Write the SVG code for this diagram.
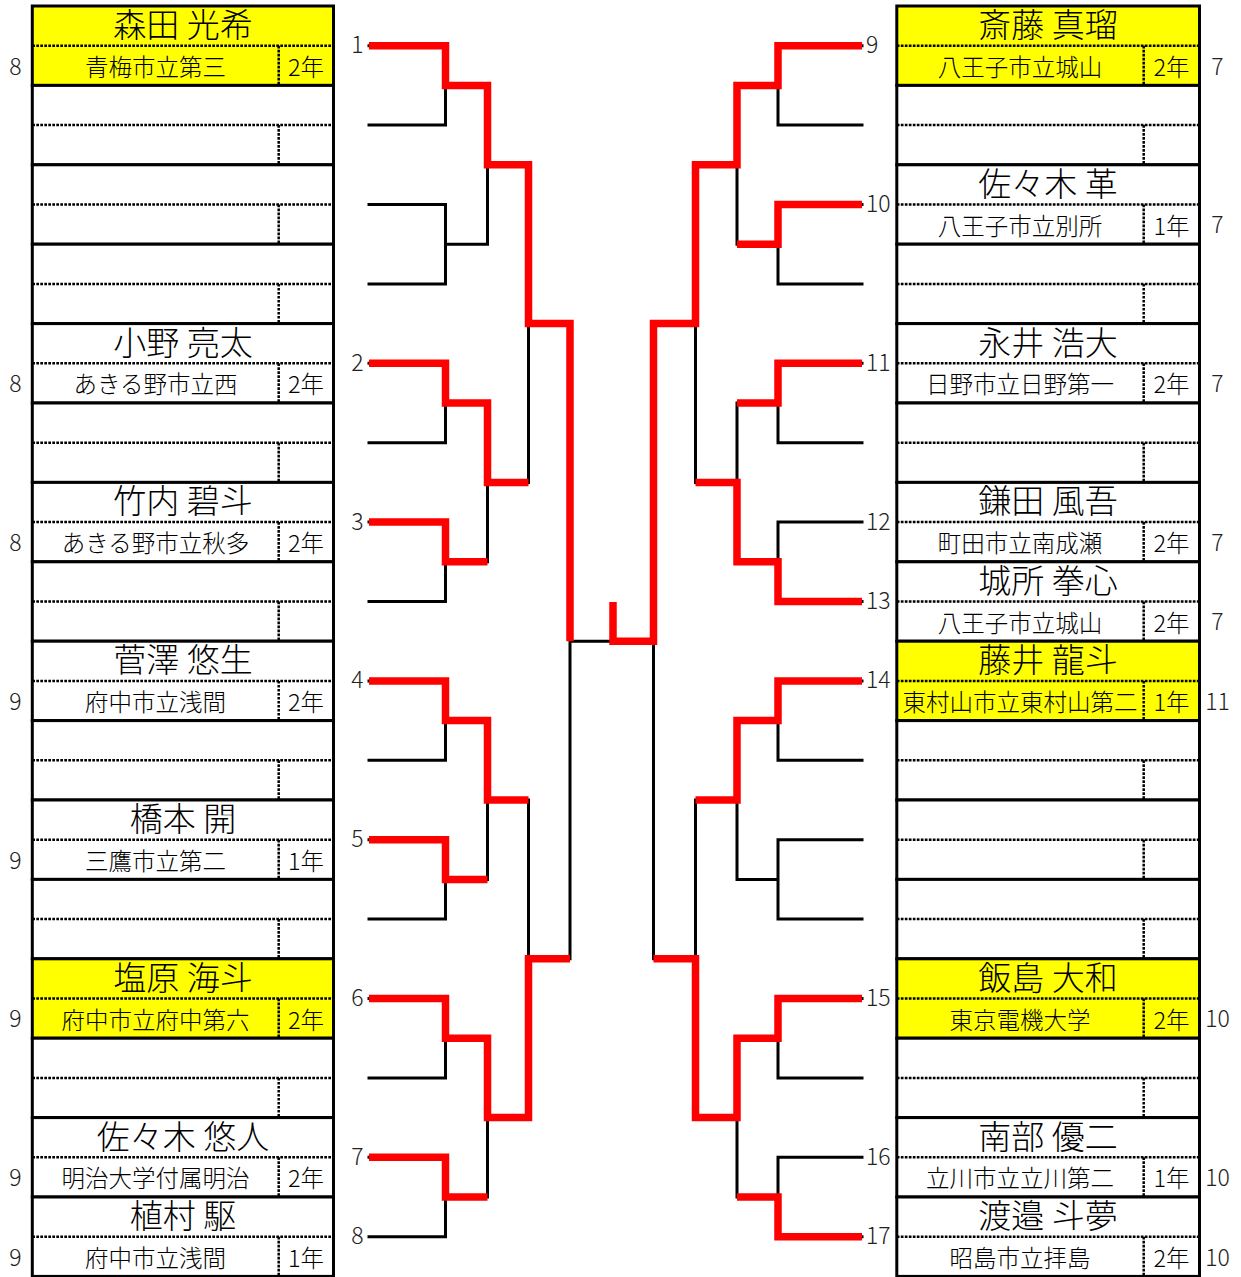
<svg xmlns="http://www.w3.org/2000/svg" width="1241" height="1277" viewBox="0 0 1241 1277">
<style>
text{font-weight:300}
.nm{font-family:"Noto Sans CJK JP","Noto Sans CJK SC",sans-serif;font-size:33px;text-anchor:middle;fill:#000}
.sc{font-family:"Noto Sans CJK JP","Noto Sans CJK SC",sans-serif;font-size:23.5px;text-anchor:middle;fill:#000}
.gr{font-family:"Noto Sans CJK JP","Noto Sans CJK SC",sans-serif;font-size:23.5px;text-anchor:middle;fill:#000}
.sd{font-family:"Noto Sans CJK JP","Noto Sans",sans-serif;font-size:23px;text-anchor:middle;fill:#222}
.nl{font-family:"Noto Sans CJK JP","Noto Sans",sans-serif;font-size:23px;text-anchor:middle;fill:#222}
.nr{font-family:"Noto Sans CJK JP","Noto Sans",sans-serif;font-size:23px;text-anchor:start;fill:#222}
.bk{fill:none;stroke:#000;stroke-width:3;stroke-linecap:square}
.rd{fill:none;stroke:#f00;stroke-width:7.5;stroke-linejoin:miter;stroke-miterlimit:4}
.dt{stroke:#000;stroke-width:2.5;stroke-dasharray:2.7 1.3}
.bx{stroke:#000;stroke-width:3}
</style>
<defs>
<g id="slotL"><rect class="bx" x="32.3" y="0" width="301.2" height="79.4"/><line class="dt" x1="32.3" y1="39.7" x2="333.5" y2="39.7"/><line class="dt" x1="278.7" y1="39.7" x2="278.7" y2="79.4"/></g>
<g id="slotR"><rect class="bx" x="896.8" y="0" width="302.7" height="79.4"/><line class="dt" x1="896.8" y1="39.7" x2="1199.5" y2="39.7"/><line class="dt" x1="1143.7" y1="39.7" x2="1143.7" y2="79.4"/></g>
</defs>
<rect width="1241" height="1277" fill="#fff"/>

<g id="connectors">
<path class="bk" d="M369 45.7H445.5M369 125.1H445.5M369 204.5H445.5M369 283.9H445.5M369 363.3H445.5M369 442.7H445.5M369 522.1H445.5M369 601.5H445.5M369 680.9H445.5M369 760.3H445.5M369 839.7H445.5M369 919.1H445.5M369 998.5H445.5M369 1077.9H445.5M369 1157.3H445.5M369 1236.7H445.5
M445.5 45.7V125.1M445.5 85.4H487.5M445.5 204.5V283.9M445.5 244.2H487.5M445.5 363.3V442.7M445.5 403H487.5M445.5 522.1V601.5M445.5 561.8H487.5M445.5 680.9V760.3M445.5 720.6H487.5M445.5 839.7V919.1M445.5 879.4H487.5M445.5 998.5V1077.9M445.5 1038.2H487.5M445.5 1157.3V1236.7M445.5 1197H487.5
M487.5 85.4V244.2M487.5 164.8H528.5M487.5 403V561.8M487.5 482.4H528.5M487.5 720.6V879.4M487.5 800H528.5M487.5 1038.2V1197M487.5 1117.6H528.5
M528.5 164.8V482.4M528.5 323.6H570M528.5 800V1117.6M528.5 958.8H570
M570 323.6V958.8M570 641.2H613"/>
<path class="bk" d="M862 45.7H778M862 125.1H778M862 204.5H778M862 283.9H778M862 363.3H778M862 442.7H778M862 522.1H778M862 601.5H778M862 680.9H778M862 760.3H778M862 839.7H778M862 919.1H778M862 998.5H778M862 1077.9H778M862 1157.3H778M862 1236.7H778
M778 45.7V125.1M778 85.4H737M778 204.5V283.9M778 244.2H737M778 363.3V442.7M778 403H737M778 522.1V601.5M778 561.8H737M778 680.9V760.3M778 720.6H737M778 839.7V919.1M778 879.4H737M778 998.5V1077.9M778 1038.2H737M778 1157.3V1236.7M778 1197H737
M737 85.4V244.2M737 164.8H695.5M737 403V561.8M737 482.4H695.5M737 720.6V879.4M737 800H695.5M737 1038.2V1197M737 1117.6H695.5
M695.5 164.8V482.4M695.5 323.6H653.5M695.5 800V1117.6M695.5 958.8H653.5
M653.5 323.6V958.8M653.5 641.2H613"/>
<path class="rd" d="M369 45.7H445.5V85.4H487.5V164.8H528.5V323.6H570V641.2"/>
<path class="rd" d="M369 363.3H445.5V403H487.5V482.4H528.5"/>
<path class="rd" d="M369 522.1H445.5V561.8H487.5"/>
<path class="rd" d="M369 680.9H445.5V720.6H487.5V800H528.5"/>
<path class="rd" d="M369 839.7H445.5V879.4H487.5"/>
<path class="rd" d="M369 998.5H445.5V1038.2H487.5V1117.6H528.5V958.8H570"/>
<path class="rd" d="M369 1157.3H445.5V1197H487.5"/>
<path class="rd" d="M862 45.7H778V85.4H737V164.8H695.5V323.6H653.5V641.2H613V602"/>
<path class="rd" d="M862 204.5H778V244.2H737"/>
<path class="rd" d="M862 363.3H778V403H737"/>
<path class="rd" d="M862 601.5H778V561.8H737V482.4H695.5"/>
<path class="rd" d="M862 680.9H778V720.6H737V800H695.5"/>
<path class="rd" d="M862 998.5H778V1038.2H737V1117.6H695.5V958.8H653.5"/>
<path class="rd" d="M862 1236.7H778V1197H737"/>
</g>

<g id="bracket-numbers">
<text class="nl" x="357.5" y="53.2">1</text>
<text class="nl" x="357.5" y="370.8">2</text>
<text class="nl" x="357.5" y="529.6">3</text>
<text class="nl" x="357.5" y="688.4">4</text>
<text class="nl" x="357.5" y="847.2">5</text>
<text class="nl" x="357.5" y="1006">6</text>
<text class="nl" x="357.5" y="1164.8">7</text>
<text class="nl" x="357.5" y="1244.2">8</text>
<text class="nr" x="866" y="53.2">9</text>
<text class="nr" x="866" y="212">10</text>
<text class="nr" x="866" y="370.8">11</text>
<text class="nr" x="866" y="529.6">12</text>
<text class="nr" x="866" y="609">13</text>
<text class="nr" x="866" y="688.4">14</text>
<text class="nr" x="866" y="1006">15</text>
<text class="nr" x="866" y="1164.8">16</text>
<text class="nr" x="866" y="1244.2">17</text>
</g>

<g id="L0"><use href="#slotL" y="6" fill="#ff0"/><text class="nm" x="183" y="37">森田 光希</text><text class="sc" x="155.5" y="75.7">青梅市立第三</text><text class="gr" x="306" y="75.7">2年</text><text class="sd" x="15.5" y="74.5">8</text></g>
<g id="L1"><use href="#slotL" y="85.4" fill="#fff"/></g>
<g id="L2"><use href="#slotL" y="164.8" fill="#fff"/></g>
<g id="L3"><use href="#slotL" y="244.2" fill="#fff"/></g>
<g id="L4"><use href="#slotL" y="323.6" fill="#fff"/><text class="nm" x="183" y="354.6">小野 亮太</text><text class="sc" x="155.5" y="393.3">あきる野市立西</text><text class="gr" x="306" y="393.3">2年</text><text class="sd" x="15.5" y="392.1">8</text></g>
<g id="L5"><use href="#slotL" y="403" fill="#fff"/></g>
<g id="L6"><use href="#slotL" y="482.4" fill="#fff"/><text class="nm" x="183" y="513.4">竹内 碧斗</text><text class="sc" x="155.5" y="552.1">あきる野市立秋多</text><text class="gr" x="306" y="552.1">2年</text><text class="sd" x="15.5" y="550.9">8</text></g>
<g id="L7"><use href="#slotL" y="561.8" fill="#fff"/></g>
<g id="L8"><use href="#slotL" y="641.2" fill="#fff"/><text class="nm" x="183" y="672.2">菅澤 悠生</text><text class="sc" x="155.5" y="710.9">府中市立浅間</text><text class="gr" x="306" y="710.9">2年</text><text class="sd" x="15.5" y="709.7">9</text></g>
<g id="L9"><use href="#slotL" y="720.6" fill="#fff"/></g>
<g id="L10"><use href="#slotL" y="800" fill="#fff"/><text class="nm" x="183" y="831">橋本 開</text><text class="sc" x="155.5" y="869.7">三鷹市立第二</text><text class="gr" x="306" y="869.7">1年</text><text class="sd" x="15.5" y="868.5">9</text></g>
<g id="L11"><use href="#slotL" y="879.4" fill="#fff"/></g>
<g id="L12"><use href="#slotL" y="958.8" fill="#ff0"/><text class="nm" x="183" y="989.8">塩原 海斗</text><text class="sc" x="155.5" y="1028.5">府中市立府中第六</text><text class="gr" x="306" y="1028.5">2年</text><text class="sd" x="15.5" y="1027.3">9</text></g>
<g id="L13"><use href="#slotL" y="1038.2" fill="#fff"/></g>
<g id="L14"><use href="#slotL" y="1117.6" fill="#fff"/><text class="nm" x="183" y="1148.6">佐々木 悠人</text><text class="sc" x="155.5" y="1187.3">明治大学付属明治</text><text class="gr" x="306" y="1187.3">2年</text><text class="sd" x="15.5" y="1186.1">9</text></g>
<g id="L15"><use href="#slotL" y="1197" fill="#fff"/><text class="nm" x="183" y="1228">植村 駆</text><text class="sc" x="155.5" y="1266.7">府中市立浅間</text><text class="gr" x="306" y="1266.7">1年</text><text class="sd" x="15.5" y="1265.5">9</text></g>

<g id="R0"><use href="#slotR" y="6" fill="#ff0"/><text class="nm" x="1048" y="37">斎藤 真瑠</text><text class="sc" x="1020" y="75.7">八王子市立城山</text><text class="gr" x="1171.5" y="75.7">2年</text><text class="sd" x="1217.5" y="74.5">7</text></g>
<g id="R1"><use href="#slotR" y="85.4" fill="#fff"/></g>
<g id="R2"><use href="#slotR" y="164.8" fill="#fff"/><text class="nm" x="1048" y="195.8">佐々木 革</text><text class="sc" x="1020" y="234.5">八王子市立別所</text><text class="gr" x="1171.5" y="234.5">1年</text><text class="sd" x="1217.5" y="233.3">7</text></g>
<g id="R3"><use href="#slotR" y="244.2" fill="#fff"/></g>
<g id="R4"><use href="#slotR" y="323.6" fill="#fff"/><text class="nm" x="1048" y="354.6">永井 浩大</text><text class="sc" x="1020" y="393.3">日野市立日野第一</text><text class="gr" x="1171.5" y="393.3">2年</text><text class="sd" x="1217.5" y="392.1">7</text></g>
<g id="R5"><use href="#slotR" y="403" fill="#fff"/></g>
<g id="R6"><use href="#slotR" y="482.4" fill="#fff"/><text class="nm" x="1048" y="513.4">鎌田 風吾</text><text class="sc" x="1020" y="552.1">町田市立南成瀬</text><text class="gr" x="1171.5" y="552.1">2年</text><text class="sd" x="1217.5" y="550.9">7</text></g>
<g id="R7"><use href="#slotR" y="561.8" fill="#fff"/><text class="nm" x="1048" y="592.8">城所 拳心</text><text class="sc" x="1020" y="631.5">八王子市立城山</text><text class="gr" x="1171.5" y="631.5">2年</text><text class="sd" x="1217.5" y="630.3">7</text></g>
<g id="R8"><use href="#slotR" y="641.2" fill="#ff0"/><text class="nm" x="1048" y="672.2">藤井 龍斗</text><text class="sc" x="1020" y="710.9">東村山市立東村山第二</text><text class="gr" x="1171.5" y="710.9">1年</text><text class="sd" x="1217.5" y="709.7">11</text></g>
<g id="R9"><use href="#slotR" y="720.6" fill="#fff"/></g>
<g id="R10"><use href="#slotR" y="800" fill="#fff"/></g>
<g id="R11"><use href="#slotR" y="879.4" fill="#fff"/></g>
<g id="R12"><use href="#slotR" y="958.8" fill="#ff0"/><text class="nm" x="1048" y="989.8">飯島 大和</text><text class="sc" x="1020" y="1028.5">東京電機大学</text><text class="gr" x="1171.5" y="1028.5">2年</text><text class="sd" x="1217.5" y="1027.3">10</text></g>
<g id="R13"><use href="#slotR" y="1038.2" fill="#fff"/></g>
<g id="R14"><use href="#slotR" y="1117.6" fill="#fff"/><text class="nm" x="1048" y="1148.6">南部 優二</text><text class="sc" x="1020" y="1187.3">立川市立立川第二</text><text class="gr" x="1171.5" y="1187.3">1年</text><text class="sd" x="1217.5" y="1186.1">10</text></g>
<g id="R15"><use href="#slotR" y="1197" fill="#fff"/><text class="nm" x="1048" y="1228">渡邉 斗夢</text><text class="sc" x="1020" y="1266.7">昭島市立拝島</text><text class="gr" x="1171.5" y="1266.7">2年</text><text class="sd" x="1217.5" y="1265.5">10</text></g>
</svg>
